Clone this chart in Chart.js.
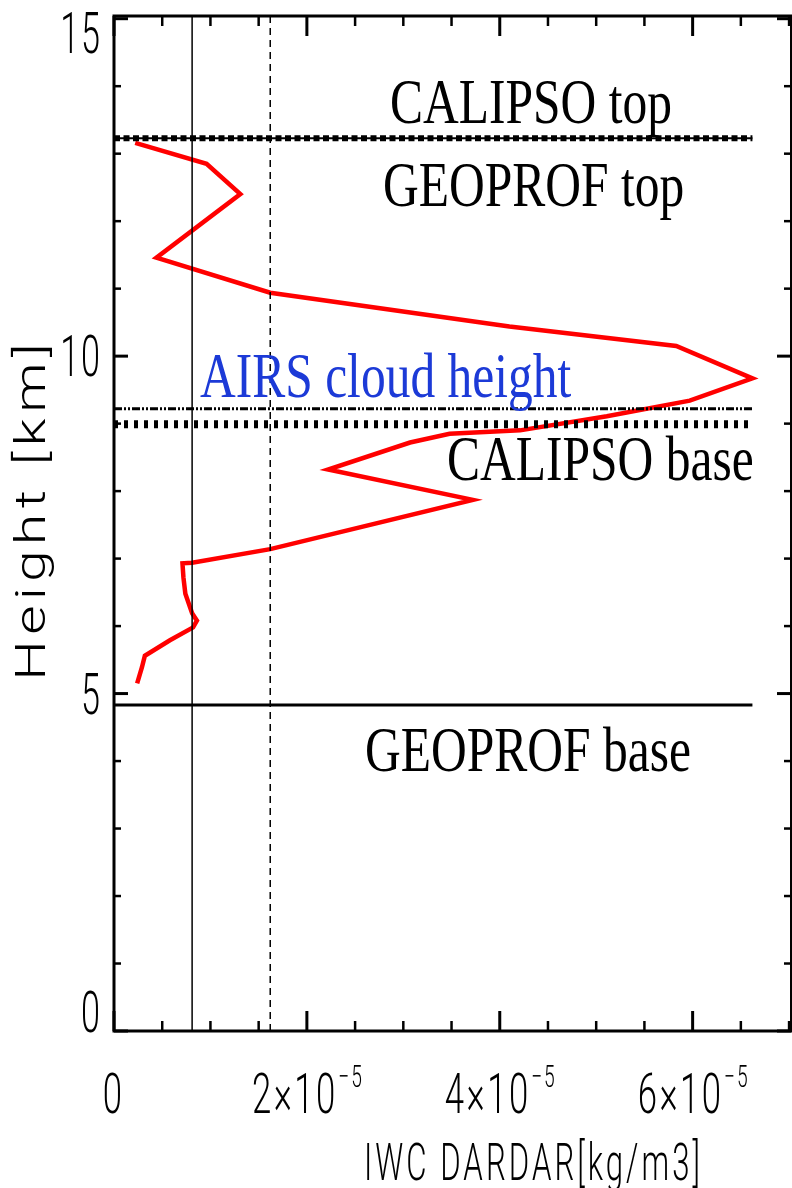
<!DOCTYPE html>
<html><head><meta charset="utf-8">
<script src="https://cdn.jsdelivr.net/npm/chart.js@4.4.0/dist/chart.umd.min.js"></script>
<style>html,body{margin:0;padding:0;background:#fff;} #wrap{width:792px;height:1188px;position:relative;}</style>
</head><body><div id="wrap"><canvas id="c" width="792" height="1188"></canvas></div>
<script>
// ---- data ----
const heightKm  = [13.16, 12.85, 12.40, 11.46, 10.94, 10.44, 10.15, 9.67, 9.34, 9.11, 8.90, 8.85, 8.72, 8.32, 7.87, 7.14, 6.94, 6.93, 6.72, 6.48, 6.19, 6.08, 5.98, 5.79, 5.56, 5.39, 5.15];
const iwcDardar = [0.22e-5, 0.96e-5, 1.31e-5, 0.44e-5, 1.62e-5, 4.10e-5, 5.83e-5, 6.62e-5, 5.97e-5, 5.11e-5, 4.21e-5, 3.48e-5, 3.07e-5, 2.22e-5, 3.72e-5, 1.62e-5, 0.81e-5, 0.71e-5, 0.72e-5, 0.74e-5, 0.81e-5, 0.86e-5, 0.82e-5, 0.58e-5, 0.32e-5, 0.29e-5, 0.24e-5];
const xRange = [0, 7.02e-5];
const yRange = [0, 15.04];
const xMajorTicks = [0, 2e-5, 4e-5, 6e-5];
const xTickMain = ["0", "2×10", "4×10", "6×10"];
const xTickSup  = ["", "−5", "−5", "−5"];
const xMinorStep = 0.5e-5;
const yMajorTicks = [0, 5, 10, 15];
const yTickLabels = ["0", "5", "10", "15"];
const yMinorStep = 1;
const calipsoTop = 13.23;
const airsCloudHeight = 9.22;
const calipsoBase = 8.99;
const geoprofBase = 4.83;
const refLineEnd = 6.62e-5;
const verticalRefs = [0.81e-5, 1.62e-5];
const xTitle = "IWC DARDAR[kg/m3]";
const yTitle = "Height [km]";
const labelTexts = ["CALIPSO top", "GEOPROF top", "AIRS cloud height", "CALIPSO base", "GEOPROF base"];

function hLine(y){ return [{x: xRange[0], y: y}, {x: refLineEnd, y: y}]; }
function vLine(x){ return [{x: x, y: yRange[0]}, {x: x, y: yRange[1]}]; }
const profile = heightKm.map((h, i) => ({x: iwcDardar[i], y: h}));

const SANS = 'Roboto, "Liberation Sans", Arial, sans-serif';
const SERIF = '"Liberation Serif", "Times New Roman", serif';

function setSans(ctx, size){ ctx.font = '300 ' + size + 'px ' + SANS; }
function measureSans(ctx, text, size, ls){
  ctx.save(); setSans(ctx, size); ctx.letterSpacing = (ls || 0) + 'px';
  const w = ctx.measureText(text).width - (ls || 0); ctx.restore(); return w;
}
function sansText(ctx, text, x, y, size, sx, align, ls){
  ctx.save();
  setSans(ctx, size);
  ctx.letterSpacing = (ls || 0) + 'px';
  ctx.textAlign = 'left'; ctx.textBaseline = 'alphabetic';
  const w = (ctx.measureText(text).width - (ls || 0)) * sx;
  const x0 = align === 'center' ? x - w/2 : (align === 'right' ? x - w : x);
  ctx.translate(x0, y); ctx.scale(sx, 1);
  ctx.fillText(text, 0, 0);
  ctx.restore();
  return w;
}
function fitText(ctx, text, x, y, size, sx, target){
  const w = measureSans(ctx, text, size, 0);
  const ls = (target / sx - w) / (text.length - 1);
  sansText(ctx, text, x, y, size, sx, 'center', ls);
}
function serifText(ctx, text, x, y, color){
  ctx.save();
  ctx.font = '49.5px ' + SERIF;
  ctx.fillStyle = color; ctx.textAlign = 'left'; ctx.textBaseline = 'alphabetic';
  ctx.translate(x, y); ctx.scale(1, 1.3);
  ctx.fillText(text, 0, 0);
  ctx.restore();
}

const framePlugin = {
  id: 'frame',
  afterDraw(chart){
    const ctx = chart.ctx, a = chart.chartArea;
    const xs = chart.scales.x, ys = chart.scales.y;
    ctx.save();
    ctx.strokeStyle = '#000'; ctx.fillStyle = '#000';
    ctx.lineCap = 'square';
    ctx.lineWidth = 3;
    ctx.beginPath();
    ctx.moveTo(a.right, a.top); ctx.lineTo(a.left, a.top); ctx.lineTo(a.left, a.bottom); ctx.lineTo(a.right, a.bottom);
    ctx.stroke();
    ctx.lineWidth = 2;
    ctx.beginPath(); ctx.moveTo(a.right, a.top); ctx.lineTo(a.right, a.bottom); ctx.stroke();
    ctx.lineCap = 'butt';
    for (let v = yRange[0]; v <= yRange[1] + 1e-9; v += yMinorStep){
      const p = ys.getPixelForValue(v);
      const major = yMajorTicks.includes(Math.round(v));
      const len = major ? 14 : 7;
      ctx.lineWidth = major ? 3 : 2.5;
      ctx.beginPath(); ctx.moveTo(a.left, p); ctx.lineTo(a.left + len, p); ctx.stroke();
      ctx.beginPath(); ctx.moveTo(a.right, p); ctx.lineTo(a.right - len, p); ctx.stroke();
    }
    for (let k = 0; k * xMinorStep <= xRange[1] + 1e-12; k++){
      const v = k * xMinorStep;
      const p = xs.getPixelForValue(v);
      const major = (k % 4 === 0);
      const len = major ? 20 : 10;
      ctx.lineWidth = major ? 3 : 2.5;
      ctx.beginPath(); ctx.moveTo(p, a.bottom); ctx.lineTo(p, a.bottom - len); ctx.stroke();
      ctx.beginPath(); ctx.moveTo(p, a.top); ctx.lineTo(p, a.top + len); ctx.stroke();
    }
    yMajorTicks.forEach((v, i) => {
      let c = ys.getPixelForValue(v);
      c = Math.max(a.top + 17, Math.min(a.bottom - 19, c));
      sansText(ctx, yTickLabels[i], 100, c + 20, 57, 0.6, 'right', 3);
    });
    xMajorTicks.forEach((v, i) => {
      const p = xs.getPixelForValue(v);
      const sx = 0.62;
      const w1 = measureSans(ctx, xTickMain[i], 56, 4) * sx;
      const w2 = xTickSup[i] ? measureSans(ctx, xTickSup[i], 31, 3) * sx : 0;
      const x0 = p - (w1 + w2 + 3) / 2;
      sansText(ctx, xTickMain[i], x0, 1113, 56, sx, 'left', 4);
      if (xTickSup[i]) sansText(ctx, xTickSup[i], x0 + w1 + 3, 1087, 31, sx, 'left', 3);
    });
    fitText(ctx, xTitle, 532, 1180, 52, 0.6, 336);
    ctx.save();
    ctx.translate(45, 512); ctx.rotate(-Math.PI / 2);
    fitText(ctx, yTitle, 0, 0, 42, 1.35, 337);
    ctx.restore();
    serifText(ctx, labelTexts[0], 390, 123, '#000');
    serifText(ctx, labelTexts[1], 383, 206, '#000');
    serifText(ctx, labelTexts[2], 200, 397, 'rgb(28,58,215)');
    serifText(ctx, labelTexts[3], 447, 480, '#000');
    serifText(ctx, labelTexts[4], 365, 771, '#000');
    ctx.restore();
  }
};

const common = {showLine: true, pointRadius: 0, pointHoverRadius: 0, borderColor: '#000', backgroundColor: '#000', fill: false, tension: 0, borderCapStyle: 'butt'};

new Chart(document.getElementById('c'), {
  type: 'scatter',
  data: {
    datasets: [
      Object.assign({}, common, {label: 'IWC DARDAR', data: profile, borderColor: '#ff0000', borderWidth: 4.5, order: 10, borderJoinStyle: 'miter'}),
      Object.assign({}, common, {label: 'CALIPSO top', data: hLine(calipsoTop), borderWidth: 2}),
      Object.assign({}, common, {label: 'CALIPSO top dots', data: hLine(calipsoTop), borderWidth: 6, borderDash: [6, 3.5]}),
      Object.assign({}, common, {label: 'AIRS cloud height', data: hLine(airsCloudHeight), borderWidth: 3, borderDash: [8, 2, 2, 2, 2, 2]}),
      Object.assign({}, common, {label: 'CALIPSO base', data: hLine(calipsoBase), borderWidth: 8, borderDash: [4, 6]}),
      Object.assign({}, common, {label: 'GEOPROF base', data: hLine(geoprofBase), borderWidth: 3}),
      Object.assign({}, common, {label: 'ref solid', data: vLine(verticalRefs[0]), borderWidth: 1.5}),
      Object.assign({}, common, {label: 'ref dashed', data: vLine(verticalRefs[1]), borderWidth: 1.5, borderDash: [7, 5]})
    ]
  },
  options: {
    responsive: false,
    animation: false,
    events: [],
    layout: {padding: {left: 114, top: 16, right: 1, bottom: 157}},
    plugins: {legend: {display: false}, tooltip: {enabled: false}, title: {display: false}},
    scales: {
      x: {type: 'linear', min: xRange[0], max: xRange[1], display: false},
      y: {type: 'linear', min: yRange[0], max: yRange[1], display: false}
    }
  },
  plugins: [framePlugin]
});
</script>
</body></html>
